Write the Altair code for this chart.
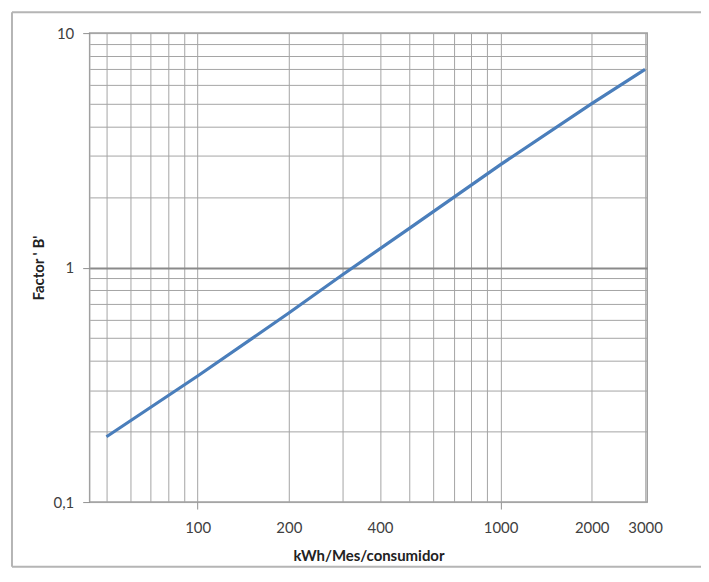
import json
import altair as alt
import pandas as pd

# Data (log-log)
kwh_mes = [50, 100, 200, 300, 500, 1000, 2000, 3000]
factor_b = [0.19, 0.345, 0.64, 0.93, 1.47, 2.75, 5.0, 7.0]

x_grid = [50, 60, 70, 80, 90, 100, 200, 300, 400, 500, 600, 700, 800, 900,
          1000, 2000, 3000]
x_labels = [100, 200, 400, 1000, 2000, 3000]
x_ticks = [100, 1000]
y_grid = [0.1, 0.2, 0.3, 0.4, 0.5, 0.6, 0.7, 0.8, 0.9,
          1, 2, 3, 4, 5, 6, 7, 8, 9, 10]
y_labels = [0.1, 1, 10]

df = pd.DataFrame({"kwh": kwh_mes, "b": factor_b})

FONT = "Lato"

x_axis = alt.Axis(
    values=x_grid,
    format="d",
    labelExpr=f"indexof({json.dumps(x_labels)}, datum.value) >= 0 ? datum.label : ''",
    labelFont=FONT, labelFontSize=15, labelColor="#404040",
    labelPadding=12, labelFlush=False, labelOverlap=False,
    tickSize=7, tickColor="#909090",
    tickOpacity={"condition": {"test": f"indexof({json.dumps(x_ticks)}, datum.value) >= 0", "value": 1}, "value": 0},
    grid=True, gridColor="#a4a4a4", gridWidth=1,
    domain=False,
    title="kWh/Mes/consumidor", titleFont=FONT, titleFontSize=15,
    titleFontWeight="bold", titleColor="#222222", titlePadding=13,
)

y_axis = alt.Axis(
    values=y_grid,
    format="~g",
    labelExpr=f"indexof({json.dumps(y_labels)}, datum.value) >= 0 ? replace(datum.label, '.', ',') : ''",
    labelFont=FONT, labelFontSize=15, labelColor="#404040",
    labelPadding=9, labelFlush=False, labelOverlap=False,
    tickSize=7, tickColor="#909090",
    tickOpacity={"condition": {"test": f"indexof({json.dumps(y_labels)}, datum.value) >= 0", "value": 1}, "value": 0},
    grid=True, gridColor={"condition": {"test": "datum.value == 1", "value": "#8a8a8a"}, "value": "#a4a4a4"},
    gridWidth={"condition": {"test": "datum.value == 1", "value": 2}, "value": 1},
    domain=False,
    title="Factor ' B'", titleFont=FONT, titleFontSize=15,
    titleFontWeight="bold", titleColor="#222222", titlePadding=7,
)

line = alt.Chart(df).mark_line(color="#4A7EBB", strokeWidth=3.2, clip=True).encode(
    x=alt.X("kwh:Q", scale=alt.Scale(type="log", domain=[44, 3050], nice=False), axis=x_axis),
    y=alt.Y("b:Q", scale=alt.Scale(type="log", domain=[0.1, 10], nice=False), axis=y_axis),
)

one = alt.Data(values=[{"f": 1}])
frame_style = dict(color="#b5b5b5", strokeWidth=2)
frame_top = alt.Chart(one).mark_rule(**frame_style).encode(
    x=alt.value(-78), x2=alt.value(700), y=alt.value(-21))
frame_bottom = alt.Chart(one).mark_rule(**frame_style).encode(
    x=alt.value(-78), x2=alt.value(700), y=alt.value(536))
frame_left = alt.Chart(one).mark_rule(**frame_style).encode(
    x=alt.value(-78), y=alt.value(-21), y2=alt.value(536))

chart = alt.layer(frame_top, frame_bottom, frame_left, line).properties(
    width=560, height=471,
    autosize=alt.AutoSizeParams(type="none"),
    padding={"left": 82, "top": 24, "right": 54, "bottom": 66},
).configure_view(stroke="#a0a0a0", strokeWidth=1.5)

chart.save("out.html", embed_options={"renderer": "svg", "actions": False})
